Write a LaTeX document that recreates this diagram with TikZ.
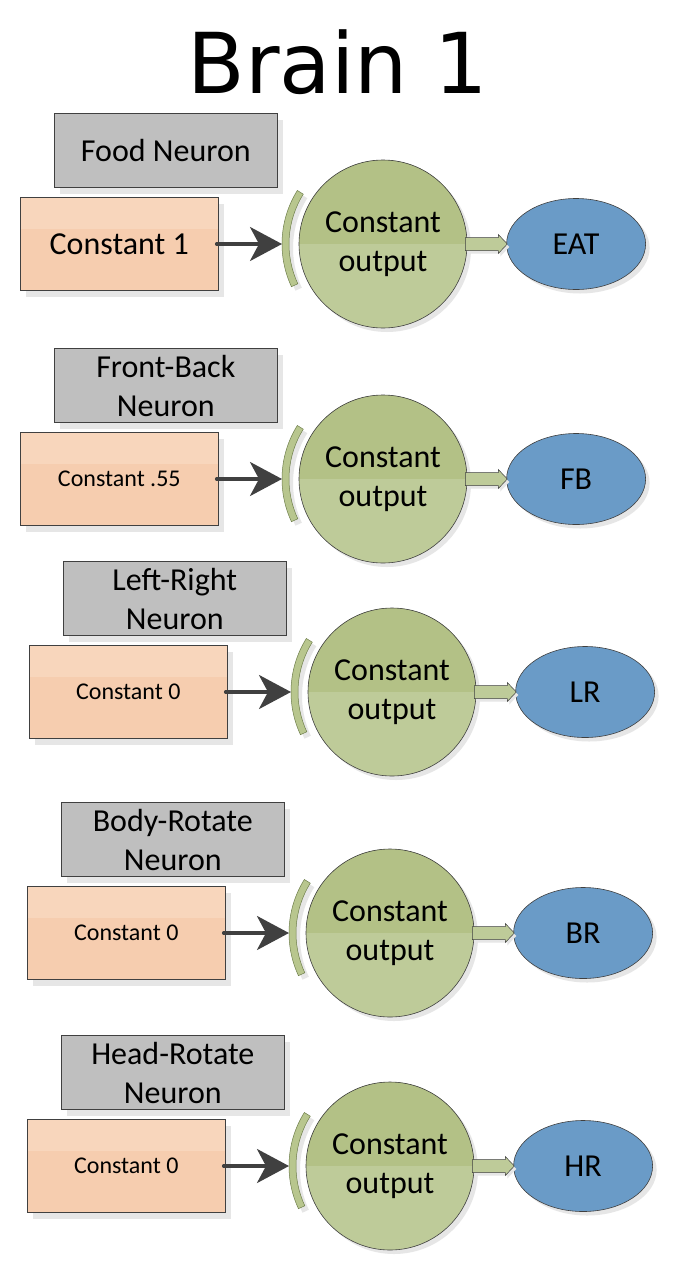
\documentclass[tikz,border=0pt]{standalone}
\usepackage{fontspec}
\setmainfont{Carlito}
\newfontfamily\titlefont{DejaVu Sans}
\usepackage{tikz}
\usetikzlibrary{shapes.geometric,arrows.meta,positioning,calc,shadows}
\usepackage{xcolor}

\definecolor{neurongray}{HTML}{BFBFBF}
\definecolor{inputtop}{HTML}{F8D6BC}
\definecolor{inputlow}{HTML}{F6CDAF}
\definecolor{celltop}{HTML}{B3C186}
\definecolor{celllow}{HTML}{BECB99}
\definecolor{actblue}{HTML}{6A9BC7}
\definecolor{edgegray}{HTML}{404040}
\definecolor{shadegray}{HTML}{E6E6E6}
\definecolor{synfill}{HTML}{B8C68E}
\definecolor{synedge}{HTML}{6F7F4C}

% curved synapse band in front of a cell
\newcommand{\synapse}[1]{%
  \begin{scope}[shift={(#1.center)}]
    \fill[shadegray, xshift=4pt, yshift=-4pt] (148:94pt) arc[start angle=148, end angle=205, radius=94pt]
      -- (205:101pt) arc[start angle=205, end angle=148, radius=101pt] -- cycle;
    \filldraw[fill=synfill, draw=synedge, line width=0.5pt] (148:94pt) arc[start angle=148, end angle=205, radius=94pt]
      -- (205:101pt) arc[start angle=205, end angle=148, radius=101pt] -- cycle;
  \end{scope}}

% fat output arrow from a cell to its action
\newcommand{\blockarrow}[2]{%
  \filldraw[blockarr] ($(#1.east)+(-2pt,6.5pt)$) -- ($(#2.west)+(-8pt,6.5pt)$) -- ($(#2.west)+(-8pt,9.5pt)$)
    -- ([xshift=1pt]#2.west) -- ($(#2.west)+(-8pt,-9.5pt)$) -- ($(#2.west)+(-8pt,-6.5pt)$)
    -- ($(#1.east)+(-2pt,-6.5pt)$) -- cycle;}

\begin{document}
\begin{tikzpicture}[
    x=1pt, y=1pt,
    >=Stealth,
    shade/.style={drop shadow={shadow xshift=6pt, shadow yshift=-6pt, fill=shadegray, opacity=1}},
    neuron/.style={rectangle, draw=edgegray, line width=0.8pt, fill=neurongray, minimum width=223pt, minimum height=74pt, align=center, font=\fontsize{32}{39}\selectfont, shade},
    input/.style={rectangle, draw=edgegray, line width=0.8pt, fill=inputlow, minimum width=198pt, minimum height=93pt, align=center, shade,
        path picture={\fill[inputtop] (path picture bounding box.north west) rectangle ($(path picture bounding box.north east)!0.34!(path picture bounding box.south east)$);}},
    big/.style={font=\fontsize{32}{39}\selectfont},
    small/.style={font=\fontsize{24}{29}\selectfont},
    cell/.style={circle, draw=edgegray, line width=0.6pt, fill=celllow, minimum size=168pt, inner sep=0pt, align=center, font=\fontsize{32}{39}\selectfont,
        drop shadow={shadow xshift=4pt, shadow yshift=-4pt, fill=shadegray, opacity=1},
        path picture={\fill[celltop] (path picture bounding box.north west) rectangle (path picture bounding box.east);}},
    action/.style={ellipse, draw=edgegray, line width=0.6pt, fill=actblue, minimum width=139pt, minimum height=91pt, inner sep=0pt, font=\fontsize{32}{39}\selectfont,
        drop shadow={shadow xshift=4pt, shadow yshift=-4pt, fill=shadegray, opacity=1}},
    arr/.style={-{Stealth[length=32pt, width=34pt, inset=9pt]}, line width=3.5pt, line cap=round, color=edgegray},
    blockarr/.style={fill=celllow, draw=edgegray, line width=0.5pt, drop shadow={shadow xshift=2pt, shadow yshift=-3pt, fill=shadegray, opacity=1}}
]
    \useasboundingbox (0,0) rectangle (675,-1266);
    \fill[white] (0,0) rectangle (675,-1266);
    \node[font=\titlefont\fontsize{84}{100}\selectfont, anchor=base] (title) at (338,-93) {Brain 1};

    % food
    \node[cell] (c1) at (383,-244) {Constant\\output};
    \node[input, big, left=80pt of c1] (o1) {Constant 1};
    \node[neuron, above=9pt of o1, xshift=46.5pt] (n1) {Food Neuron};
    \node[action, right=39pt of c1] (a1) {EAT};
    \synapse{c1}
    \coordinate (s1) at ([xshift=-101pt]c1.center);
    \draw[arr] ([xshift=-2pt]o1.east) -- (s1);
    \blockarrow{c1}{a1}

    % front-back
    \node[cell] (c2) at (383,-479) {Constant\\output};
    \node[input, small, left=80pt of c2] (o2) {Constant .55};
    \node[neuron, above=9pt of o2, xshift=46.5pt] (n2) {Front-Back\\Neuron};
    \node[action, right=39pt of c2] (a2) {FB};
    \synapse{c2}
    \coordinate (s2) at ([xshift=-101pt]c2.center);
    \draw[arr] ([xshift=-2pt]o2.east) -- (s2);
    \blockarrow{c2}{a2}

    % left-right
    \node[cell] (c3) at (392,-692) {Constant\\output};
    \node[input, small, left=80pt of c3] (o3) {Constant 0};
    \node[neuron, above=9pt of o3, xshift=46.5pt] (n3) {Left-Right\\Neuron};
    \node[action, right=39pt of c3] (a3) {LR};
    \synapse{c3}
    \coordinate (s3) at ([xshift=-101pt]c3.center);
    \draw[arr] ([xshift=-2pt]o3.east) -- (s3);
    \blockarrow{c3}{a3}

    % body-rotate
    \node[cell] (c4) at (390,-933) {Constant\\output};
    \node[input, small, left=80pt of c4] (o4) {Constant 0};
    \node[neuron, above=9pt of o4, xshift=46.5pt] (n4) {Body-Rotate\\Neuron};
    \node[action, right=39pt of c4] (a4) {BR};
    \synapse{c4}
    \coordinate (s4) at ([xshift=-101pt]c4.center);
    \draw[arr] ([xshift=-2pt]o4.east) -- (s4);
    \blockarrow{c4}{a4}

    % head-rotate
    \node[cell] (c5) at (390,-1166) {Constant\\output};
    \node[input, small, left=80pt of c5] (o5) {Constant 0};
    \node[neuron, above=9pt of o5, xshift=46.5pt] (n5) {Head-Rotate\\Neuron};
    \node[action, right=39pt of c5] (a5) {HR};
    \synapse{c5}
    \coordinate (s5) at ([xshift=-101pt]c5.center);
    \draw[arr] ([xshift=-2pt]o5.east) -- (s5);
    \blockarrow{c5}{a5}
\end{tikzpicture}
\end{document}
